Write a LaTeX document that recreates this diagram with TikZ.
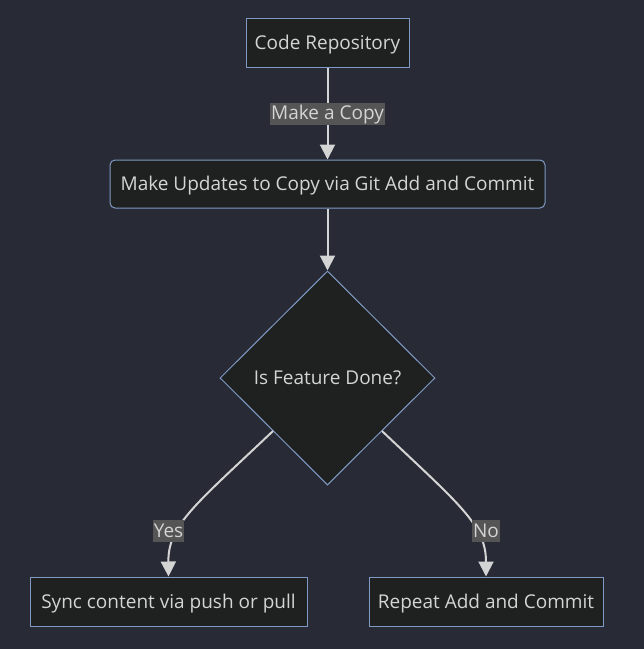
\documentclass[tikz,border=0pt]{standalone}
\usepackage{fontspec}
\setmainfont{Open Sans}
\usetikzlibrary{arrows.meta,shapes.geometric}
\definecolor{bgc}{HTML}{282A36}
\definecolor{nodefill}{HTML}{1F2020}
\definecolor{nodeborder}{HTML}{7F9BC4}
\definecolor{txt}{HTML}{D4D4D4}
\definecolor{lblbg}{HTML}{555555}
\tikzset{
  box/.style={draw=nodeborder, fill=nodefill, line width=1pt, text=txt, inner sep=0pt, text height=14pt, text depth=1pt, font=\fontsize{19}{22}\selectfont},
  conn/.style={draw=txt, line width=2pt, -{Triangle[width=15pt,length=15pt]}},
  elabel/.style={fill=lblbg, text=txt, inner xsep=1pt, inner ysep=2pt, text height=15pt, text depth=3pt, font=\fontsize{19}{22}\selectfont},
}
\begin{document}
\begin{tikzpicture}[x=1pt,y=-1pt]
\fill[bgc] (0,0) rectangle (644,649);
\useasboundingbox (0,0) rectangle (644,649);
\node[box, minimum width=163pt, minimum height=49pt] (repo) at (327.5,42.5) {Code Repository};
\node[box, rounded corners=5pt, minimum width=435pt, minimum height=48pt] (upd) at (327.5,184) {Make Updates to Copy via Git Add and Commit};
\node[box, diamond, minimum width=215pt, minimum height=214pt] (dec) at (327.5,378) {Is Feature Done?};
\node[box, minimum width=277pt, minimum height=49pt] (sync) at (168.5,601.5) {Sync content via push or pull};
\node[box, minimum width=234pt, minimum height=49pt] (rep) at (486,601.5) {Repeat Add and Commit};
\coordinate (yesS) at (273,431);
\coordinate (noS) at (382,431);
\draw[conn] (repo.south) -- (upd.north) node[pos=0.5, elabel] {Make a Copy};
\draw[conn] (upd.south) -- (dec.north);
\draw[conn] (yesS) .. controls (195,505) and (168,525) .. (sync.north);
\draw[conn] (noS) .. controls (460,505) and (486,525) .. (rep.north);
\node[elabel] (ly) at (168.5,531) {Yes};
\node[elabel] (ln) at (486,531) {No};
\end{tikzpicture}
\end{document}
